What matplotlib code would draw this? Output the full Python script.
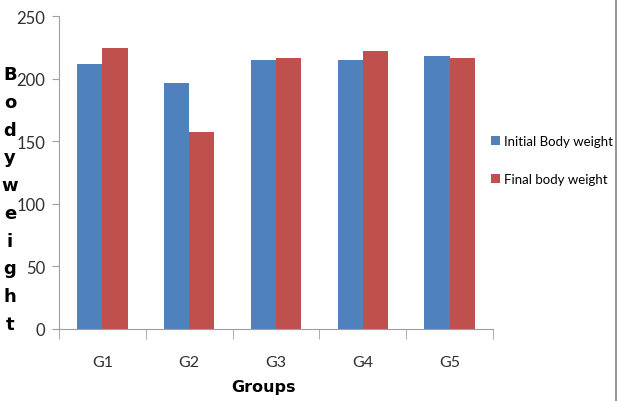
import matplotlib.pyplot as plt
import matplotlib.lines as mlines
import numpy as np

groups = ["G1", "G2", "G3", "G4", "G5"]
initial_wt = [211.7, 196.5, 214.6, 214.6, 218.3]
final_wt = [224.4, 157.3, 216.2, 222.0, 216.2]
ylabel_text = "Bodyweight"

plt.rcParams['font.family'] = ['Lato', 'DejaVu Sans']

fig = plt.figure(figsize=(6.18, 4.02), dpi=100)
ax = fig.add_axes([59 / 618, 1 - 330 / 402, (493 - 59) / 618, (330 - 17) / 402])

x = np.arange(len(groups))
w = 0.29
ax.bar(x - w / 2, initial_wt, w, color="#4F81BD", label="Initial Body weight")
ax.bar(x + w / 2, final_wt, w, color="#C0504D", label="Final body weight")

ax.set_xlim(-0.5, len(groups) - 0.5)
ax.set_ylim(0, 250)
ax.set_yticks(range(0, 251, 50))
ax.set_xticks(x)
ax.set_xticklabels(groups)
# category boundary ticks like excel
ax.set_xticks(np.arange(-0.5, len(groups), 1), minor=True)
ax.tick_params(axis="x", which="major", length=0, pad=19, labelsize=11.5, labelcolor="#303030")
ax.tick_params(axis="x", which="minor", length=7, color="#A0A0A0", direction="out")
ax.tick_params(axis="y", length=5, color="#A0A0A0", pad=5, labelsize=12, labelcolor="#303030")

for s in ["top", "right"]:
    ax.spines[s].set_visible(False)
for s in ["left", "bottom"]:
    ax.spines[s].set_color("#A0A0A0")

# stacked y-label letters
for i, ch in enumerate(ylabel_text):
    yy = 75 + i * 250 / 9
    fig.text(10 / 618, 1 - yy / 402, ch, ha="center", va="center",
             fontsize=13, fontweight="heavy", family="DejaVu Sans")

fig.text(264 / 618, 1 - 388 / 402, "Groups", ha="center", va="center",
         fontsize=11.5, fontweight="heavy", family="DejaVu Sans")

ax.legend(loc="center left", bbox_to_anchor=(484 / 618, 1 - 161 / 402),
          bbox_transform=fig.transFigure, frameon=False, fontsize=9.5,
          handlelength=0.7, handleheight=0.7, handletextpad=0.35,
          labelspacing=2.0, borderpad=0)

# right border of chart area
fig.add_artist(mlines.Line2D([616 / 618, 616 / 618], [0, 1], color="#808080", lw=1.2))

fig.savefig("out.png", dpi=100)
